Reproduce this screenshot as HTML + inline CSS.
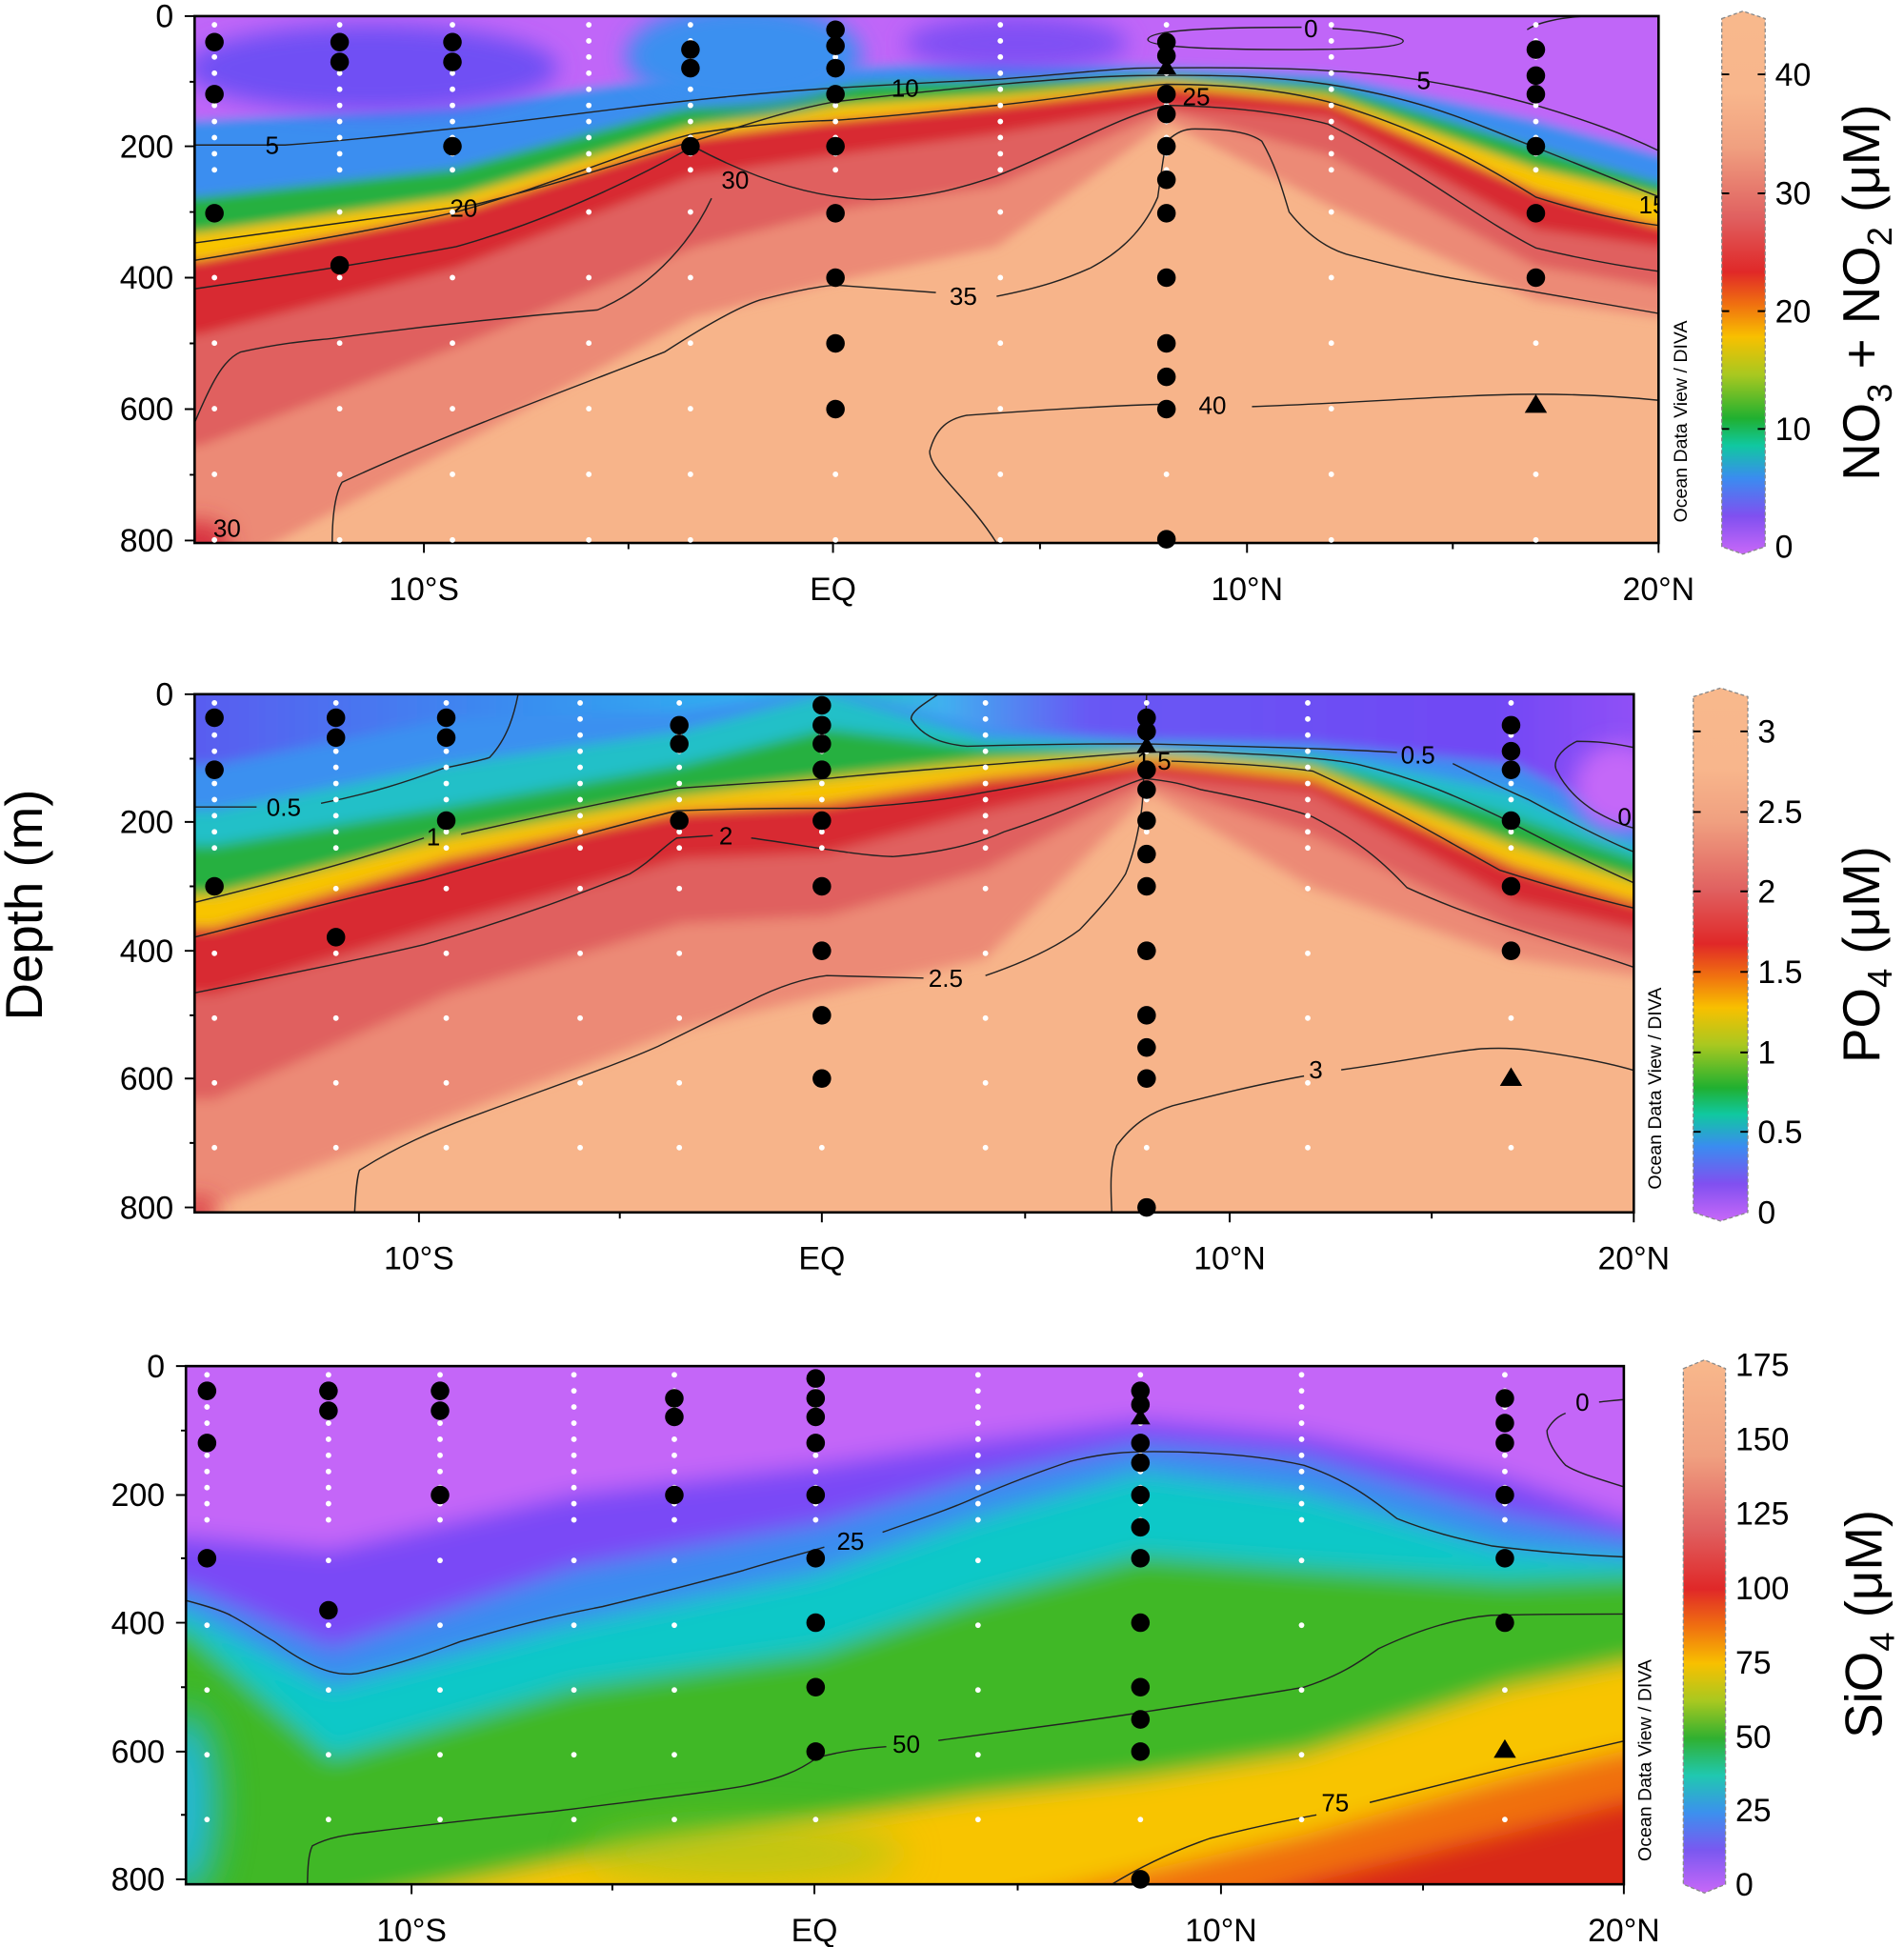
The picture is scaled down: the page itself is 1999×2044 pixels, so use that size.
<!DOCTYPE html>
<html><head><meta charset="utf-8"><style>html,body{margin:0;padding:0;background:#fff;width:1999px;height:2044px;overflow:hidden}svg{display:block;position:absolute;left:0;top:0}text{font-family:"Liberation Sans",Arial,sans-serif;fill:#000}</style></head>
<body>
<svg width="1999" height="2044" viewBox="0 0 1536 1570.6" preserveAspectRatio="none" xmlns="http://www.w3.org/2000/svg">
<defs>
<filter id="b1" x="-10%" y="-10%" width="120%" height="120%"><feGaussianBlur stdDeviation="4"/></filter>
<filter id="b2" x="-10%" y="-10%" width="120%" height="120%"><feGaussianBlur stdDeviation="5"/></filter>
<filter id="b3" x="-10%" y="-10%" width="120%" height="120%"><feGaussianBlur stdDeviation="9"/></filter>
<filter id="b4" x="-50%" y="-50%" width="200%" height="200%"><feGaussianBlur stdDeviation="15"/></filter>
<clipPath id="c1"><rect x="157" y="13" width="1181" height="425"/></clipPath>
<clipPath id="c2"><rect x="157" y="560" width="1161" height="418"/></clipPath>
<clipPath id="c3"><rect x="150" y="1102" width="1160" height="418"/></clipPath>
<linearGradient id="top2" gradientUnits="userSpaceOnUse" x1="157" x2="1318" y1="0" y2="0"><stop offset="0" stop-color="#5a5cf0"/><stop offset="0.22" stop-color="#3a8cf0"/><stop offset="0.38" stop-color="#30b0f0"/><stop offset="0.45" stop-color="#20c0c0"/><stop offset="0.52" stop-color="#40b0f0"/><stop offset="0.62" stop-color="#6858f4"/><stop offset="0.9" stop-color="#7048f4"/><stop offset="1" stop-color="#9050f6"/></linearGradient>
<linearGradient id="cbN" x1="0" x2="0" y1="1" y2="0"><stop offset="0" stop-color="#c868f8"/><stop offset="0.07" stop-color="#8050f0"/><stop offset="0.14" stop-color="#3a8cf0"/><stop offset="0.2" stop-color="#10c8a0"/><stop offset="0.25" stop-color="#20b030"/><stop offset="0.33" stop-color="#a8c820"/><stop offset="0.4" stop-color="#f8c000"/><stop offset="0.46" stop-color="#f07010"/><stop offset="0.52" stop-color="#e02828"/><stop offset="0.62" stop-color="#e06060"/><stop offset="0.75" stop-color="#f0a080"/><stop offset="0.85" stop-color="#f8b68c"/><stop offset="1" stop-color="#f8b88c"/></linearGradient>
<linearGradient id="cbS" x1="0" x2="0" y1="1" y2="0"><stop offset="0" stop-color="#c868f8"/><stop offset="0.08" stop-color="#7a58f0"/><stop offset="0.15" stop-color="#3c90ee"/><stop offset="0.22" stop-color="#20c8b0"/><stop offset="0.29" stop-color="#30b030"/><stop offset="0.36" stop-color="#a8c820"/><stop offset="0.43" stop-color="#f8c000"/><stop offset="0.5" stop-color="#f07010"/><stop offset="0.57" stop-color="#e02828"/><stop offset="0.68" stop-color="#e06060"/><stop offset="0.82" stop-color="#f0a080"/><stop offset="1" stop-color="#f8b88c"/></linearGradient>
</defs>

<!-- PANEL 1 -->
<g clip-path="url(#c1)">
<rect x="157" y="13" width="1181" height="425" fill="#f7b48a"/>
<g filter="url(#b1)">
<path d="M100,-50 L100,470 161,470 368,360 559,256 674,227 804,199 941,98 1071,165 1239,242 1339,256 1400,256 1400,-50Z" fill="#ec8a76"/>
<path d="M100,-50 L100,360 161,360 368,280 559,200 674,170 804,150 941,90 1071,125 1239,215 1339,232 1400,232 1400,-50Z" fill="#e0605e"/>
<path d="M100,-50 L100,270 161,270 368,216 559,142 674,125 804,108 941,85 1071,94 1239,185 1339,199 1400,199 1400,-50Z" fill="#d82a30"/>
<path d="M100,-50 L100,210 161,210 368,171 559,111 674,97 804,85 941,70 1071,82 1239,154 1339,182 1400,182 1400,-50Z" fill="#f8c400"/>
<path d="M100,-50 L100,188 161,188 368,159 559,102 674,85 804,77 941,65 1071,77 1239,136 1339,159 1400,159 1400,-50Z" fill="#28b040"/>
<path d="M100,-50 L100,159 161,159 368,136 559,85 674,68 804,65 941,60 1071,68 1239,119 1339,148 1400,148 1400,-50Z" fill="#3a8ef0"/>
<path d="M100,-50 L100,97 161,97 368,85 559,60 674,55 804,48 941,54 1071,60 1239,97 1339,125 1400,125 1400,-50Z" fill="#c066f8"/>
</g>
<g filter="url(#b3)">
<ellipse cx="300" cy="55" rx="150" ry="35" fill="#7050f4"/>
<ellipse cx="600" cy="45" rx="95" ry="42" fill="#3a90f0"/>
<ellipse cx="820" cy="35" rx="90" ry="22" fill="#8050f4"/>
<ellipse cx="160" cy="438" rx="25" ry="18" fill="#d83040"/>
</g>
<g fill="none" stroke="#222" stroke-width="1.1">
<path d="M157,117 L230,117 C300,112 340,106 383,102 C450,94 480,90 521,85 C600,76 640,73 674,71 C740,67 760,66 804,64 C860,60 890,56 918,55 C990,54 1040,55 1071,57 C1110,59 1130,62 1148,65 C1190,72 1210,77 1239,85 C1280,97 1310,108 1339,122"/>
<path d="M157,196 C260,182 320,174 383,165 C460,146 510,128 559,114 C610,98 640,88 674,82 C780,70 860,62 918,61 C990,60 1030,62 1071,68 C1150,80 1190,100 1239,119 C1280,135 1310,148 1339,159"/>
<path d="M157,210 C260,193 320,182 368,171 C450,148 510,120 559,108 C610,100 640,98 674,97 C730,93 770,88 804,85 C870,78 910,70 941,68 C1000,68 1040,74 1071,82 C1150,105 1200,135 1239,159 C1280,172 1310,178 1339,182"/>
<path d="M157,233 C260,218 320,208 368,199 C450,176 520,140 559,118 C600,140 650,160 704,161 C750,160 780,150 804,142 C860,120 900,95 941,85 C1000,86 1040,92 1071,100 C1150,140 1190,175 1239,200 C1280,210 1310,215 1339,219"/>
<path d="M157,341 C170,310 180,290 194,284 C230,276 250,275 268,273 C350,262 420,255 482,250 C530,230 560,190 574,160"/>
<path d="M268,438 C268,410 272,395 276,389 C360,350 470,310 536,284 C570,262 595,248 613,242 C640,235 660,231 674,230 L755,236 M804,239 C840,232 860,225 880,216 C910,200 925,180 934,159 C938,130 940,118 941,114 C950,106 956,104 964,104 C995,104 1010,108 1018,114 C1030,135 1035,155 1040,171 C1055,190 1070,200 1086,205 C1150,222 1190,228 1224,233 C1270,241 1310,248 1339,253"/>
<path d="M804,438 C780,400 750,380 750,364 C755,345 765,338 780,335 C850,330 900,327 941,326 M1010,328 C1100,325 1180,318 1239,318 C1280,318 1310,320 1339,323"/>
<path d="M926,32 C926,24 980,22 1050,22 M1075,23 C1110,25 1132,30 1132,33 C1132,38 1100,40 1040,40 C980,40 926,38 926,32"/>
<path d="M1232,24 C1240,18 1260,14 1280,13"/>
</g>
<g font-size="20"><text x="214" y="124">5</text><text x="1143" y="72">5</text><text x="1052" y="30">0</text><text x="719" y="78">10</text><text x="363" y="175">20</text><text x="954" y="85">25</text><text x="582" y="152">30</text><text x="766" y="246">35</text><text x="967" y="334">40</text><text x="172" y="433">30</text><text x="1322" y="172">15</text></g>
</g>
<rect x="157" y="13" width="1181" height="425" fill="none" stroke="#000" stroke-width="2"/>

<!-- PANEL 2 -->
<g clip-path="url(#c2)">
<rect x="157" y="560" width="1161" height="418" fill="#f7b48a"/>
<g filter="url(#b2)">
<path d="M100,500 L100,972 173,972 361,901 550,830 667,802 795,773 927,639 1059,716 1222,773 1320,787 1380,787 1380,500Z" fill="#ec8a76"/>
<path d="M100,500 L100,887 173,887 361,802 550,745 667,739 795,702 927,631 1059,674 1222,750 1320,773 1380,773 1380,500Z" fill="#e0605e"/>
<path d="M100,500 L100,802 173,802 361,745 550,693 667,688 795,654 927,625 1059,639 1222,728 1320,750 1380,750 1380,500Z" fill="#d82a30"/>
<path d="M100,500 L100,748 173,748 361,693 550,654 667,648 795,628 927,614 1059,628 1222,699 1320,728 1380,728 1380,500Z" fill="#f8c400"/>
<path d="M100,500 L100,722 173,722 361,676 550,642 667,628 795,614 927,608 1059,620 1222,682 1320,711 1380,711 1380,500Z" fill="#28b040"/>
<path d="M100,500 L100,682 173,682 361,651 550,617 667,588 795,603 927,605 1059,614 1222,659 1320,693 1380,693 1380,500Z" fill="#20c0c8"/>
<path d="M100,500 L100,654 173,654 361,617 550,590 667,560 795,596 927,602 1059,608 1222,639 1320,682 1380,682 1380,500Z" fill="#3a90f0"/>
<path d="M100,500 L100,617 173,617 361,580 550,574 667,554 795,588 927,597 1059,600 1222,617 1320,665 1380,665 1380,500Z" fill="url(#top2)"/>
</g>
<g filter="url(#b3)">
<ellipse cx="1305" cy="635" rx="35" ry="35" fill="#c468f8"/>
<ellipse cx="160" cy="978" rx="15" ry="12" fill="#d83040"/>
</g>
<g fill="none" stroke="#222" stroke-width="1.1">
<path d="M157,651 L207,651 M259,648 C300,640 330,630 357,620 C380,615 390,613 395,611 C410,595 415,575 418,560"/>
<path d="M757,560 C745,568 735,574 735,580 C745,595 760,600 780,602 C850,600 890,600 923,600 C1000,602 1080,604 1127,607 M1172,616 C1190,625 1210,635 1233,645 C1270,665 1300,680 1320,688"/>
<path d="M157,728 C250,705 300,690 342,676 M372,673 C450,655 500,645 546,636 C600,632 640,630 667,628 C730,622 760,620 795,617 C860,612 900,608 923,607 C950,606 970,606 984,607 C1050,610 1080,613 1097,617 C1150,630 1180,645 1210,659 C1250,680 1290,700 1320,713"/>
<path d="M157,756 C250,732 300,720 342,710 C430,685 500,665 546,654 C600,652 640,652 682,652 C740,648 770,644 795,639 C860,628 900,618 915,614 M945,614 C1000,616 1030,618 1059,622 C1120,650 1170,680 1210,702 C1260,718 1295,727 1320,733"/>
<path d="M157,801 C250,782 300,772 342,762 C420,740 470,720 508,705 C525,695 535,683 546,676 L575,674 M606,676 C650,682 690,690 720,691 C760,688 790,680 810,671 C860,655 900,635 923,628 C945,630 955,633 969,637 C1010,645 1040,652 1059,659 C1100,680 1120,700 1135,716 C1170,732 1200,742 1225,750 C1260,762 1295,772 1320,781"/>
<path d="M286,980 C287,960 288,950 290,944 C320,925 350,912 380,901 C450,875 500,858 531,844 C570,825 590,815 606,807 C630,795 650,789 667,787 L745,789 M795,787 C830,775 855,762 871,750 C890,730 900,718 908,705 C914,690 918,672 920,659 C922,650 922,645 925,560"/>
<path d="M897,980 C896,960 895,940 901,924 C915,905 930,897 946,892 C1000,878 1030,872 1052,868 M1082,863 C1140,855 1170,848 1195,846 C1215,845 1225,846 1233,847 C1270,852 1300,858 1320,864"/>
<path d="M1318,603 C1295,598 1280,598 1272,598 C1258,605 1252,615 1256,622 C1265,640 1280,650 1286,654 C1300,662 1310,666 1318,668"/>
</g>
<g font-size="20"><text x="215" y="658">0.5</text><text x="1130" y="616">0.5</text><text x="344" y="682">1</text><text x="917" y="621">1.5</text><text x="580" y="681">2</text><text x="749" y="796">2.5</text><text x="1056" y="870">3</text><text x="1305" y="666">0</text></g>
</g>
<rect x="157" y="560" width="1161" height="418" fill="none" stroke="#000" stroke-width="2"/>

<!-- PANEL 3 -->
<g clip-path="url(#c3)">
<rect x="150" y="1102" width="1160" height="418" fill="#d82818"/>
<g filter="url(#b3)">
<path d="M100,1040 L100,1650 150,1650 267,1650 463,1650 659,1650 787,1650 920,1560 1052,1520 1214,1480 1312,1455 1380,1455 1380,1040Z" fill="#f07010"/>
<path d="M100,1040 L100,1650 150,1650 267,1650 463,1600 659,1560 787,1540 920,1510 1052,1480 1214,1435 1312,1412 1380,1412 1380,1040Z" fill="#f8c400"/>
<path d="M100,1040 L100,1650 150,1650 267,1540 463,1500 659,1470 787,1450 920,1435 1052,1415 1214,1362 1312,1342 1380,1342 1380,1040Z" fill="#40b828"/>
<path d="M100,1040 L100,1315 150,1315 267,1418 463,1361 659,1333 787,1290 920,1255 1052,1265 1214,1275 1312,1272 1380,1272 1380,1040Z" fill="#10c8c8"/>
<path d="M100,1040 L100,1300 150,1300 267,1361 463,1310 659,1270 787,1225 920,1188 1052,1205 1214,1250 1312,1258 1380,1258 1380,1040Z" fill="#3a8cf0"/>
<path d="M100,1040 L100,1280 150,1280 267,1330 463,1265 659,1230 787,1193 920,1165 1052,1176 1214,1222 1312,1240 1380,1240 1380,1040Z" fill="#7a4af6"/>
<path d="M100,1040 L100,1239 150,1239 267,1250 463,1205 659,1182 787,1162 920,1145 1052,1157 1214,1191 1312,1225 1380,1225 1380,1040Z" fill="#c466f8"/>
</g>
<g filter="url(#b4)">
<ellipse cx="150" cy="1455" rx="25" ry="75" fill="#20b8d8"/>
<ellipse cx="600" cy="1495" rx="130" ry="25" fill="#9cc820" opacity="0.6"/>
</g>
<g fill="none" stroke="#222" stroke-width="1.1">
<path d="M146,1290 C165,1295 175,1298 184,1302 C200,1310 210,1318 221,1324 C240,1338 258,1348 274,1350 C285,1351 290,1350 297,1348 C330,1340 350,1332 372,1324 C420,1310 450,1303 486,1296 C540,1283 570,1275 599,1267 C625,1259 645,1254 665,1248 M712,1236 C740,1226 765,1218 787,1208 C820,1194 845,1185 863,1179 C890,1172 910,1171 931,1171 C980,1171 1020,1175 1052,1182 C1090,1195 1110,1212 1127,1225 C1160,1238 1185,1243 1203,1247 C1250,1253 1285,1255 1312,1256"/>
<path d="M248,1526 C248,1505 249,1495 252,1489 C265,1482 280,1480 297,1478 C360,1470 400,1466 448,1461 C520,1452 570,1446 599,1441 C630,1435 645,1428 659,1418 C680,1412 700,1410 715,1409 M757,1404 C830,1394 880,1388 923,1381 C980,1372 1020,1367 1052,1361 C1080,1352 1095,1342 1112,1330 C1150,1312 1180,1305 1203,1303 C1250,1302 1285,1302 1312,1302"/>
<path d="M889,1525 C920,1505 950,1492 976,1483 C1010,1474 1035,1469 1062,1464 M1105,1454 C1160,1440 1200,1430 1225,1424 C1260,1416 1290,1409 1312,1404"/>
<path d="M1312,1200 C1290,1193 1272,1188 1263,1182 C1252,1170 1248,1160 1248,1154 C1252,1146 1258,1142 1263,1140 M1290,1131 C1300,1130 1306,1129 1312,1129"/>
</g>
<g font-size="20"><text x="675" y="1250">25</text><text x="720" y="1414">50</text><text x="1066" y="1461">75</text><text x="1271" y="1138">0</text></g>
</g>
<rect x="150" y="1102" width="1160" height="418" fill="none" stroke="#000" stroke-width="2"/>

<!-- white dot columns -->
<g stroke="#fff" stroke-width="4.5" stroke-linecap="round" stroke-dasharray="0 13">
<path d="M173,20V140M274,20V140M365,20V140M475,20V140M557,20V140M674,20V140M807,20V140M941,20V140M1074,20V140M1239,20V140"/>
<path d="M173,567V687M271,567V687M360,567V687M468,567V687M548,567V687M663,567V687M795,567V687M925,567V687M1055,567V687M1219,567V687"/>
<path d="M167,1109V1229M265,1109V1229M355,1109V1229M463,1109V1229M544,1109V1229M658,1109V1229M789,1109V1229M920,1109V1229M1050,1109V1229M1214,1109V1229"/>
</g>
<g stroke="#fff" stroke-width="4.5" stroke-linecap="round" stroke-dasharray="0 52.9">
<path d="M173,171V438M274,171V438M365,171V438M475,171V438M557,171V438M674,171V438M807,171V438M941,171V438M1074,171V438M1239,171V438"/>
</g>
<g stroke="#fff" stroke-width="4.5" stroke-linecap="round" stroke-dasharray="0 52.25">
<path d="M173,716.75V978M271,716.75V978M360,716.75V978M468,716.75V978M548,716.75V978M663,716.75V978M795,716.75V978M925,716.75V978M1055,716.75V978M1219,716.75V978"/>
<path d="M167,1258.75V1520M265,1258.75V1520M355,1258.75V1520M463,1258.75V1520M544,1258.75V1520M658,1258.75V1520M789,1258.75V1520M920,1258.75V1520M1050,1258.75V1520M1214,1258.75V1520"/>
</g>

<!-- black dots -->
<g fill="#000">
<circle cx="173" cy="34" r="7.5"/><circle cx="173" cy="76" r="7.5"/><circle cx="173" cy="172" r="7.5"/>
<circle cx="274" cy="34" r="7.5"/><circle cx="274" cy="50" r="7.5"/><circle cx="274" cy="214" r="7.5"/>
<circle cx="365" cy="34" r="7.5"/><circle cx="365" cy="50" r="7.5"/><circle cx="365" cy="118" r="7.5"/>
<circle cx="557" cy="40" r="7.5"/><circle cx="557" cy="55" r="7.5"/><circle cx="557" cy="118" r="7.5"/>
<circle cx="674" cy="24" r="7.5"/><circle cx="674" cy="37" r="7.5"/><circle cx="674" cy="55" r="7.5"/><circle cx="674" cy="76" r="7.5"/><circle cx="674" cy="118" r="7.5"/><circle cx="674" cy="172" r="7.5"/><circle cx="674" cy="224" r="7.5"/><circle cx="674" cy="277" r="7.5"/><circle cx="674" cy="330" r="7.5"/>
<circle cx="941" cy="34" r="7.5"/><circle cx="941" cy="45" r="7.5"/><circle cx="941" cy="76" r="7.5"/><circle cx="941" cy="92" r="7.5"/><circle cx="941" cy="118" r="7.5"/><circle cx="941" cy="145" r="7.5"/><circle cx="941" cy="172" r="7.5"/><circle cx="941" cy="224" r="7.5"/><circle cx="941" cy="277" r="7.5"/><circle cx="941" cy="304" r="7.5"/><circle cx="941" cy="330" r="7.5"/><circle cx="941" cy="435" r="7.5"/>
<path d="M941,47 l-8,13 h16z"/>
<circle cx="1239" cy="40" r="7.5"/><circle cx="1239" cy="61" r="7.5"/><circle cx="1239" cy="76" r="7.5"/><circle cx="1239" cy="118" r="7.5"/><circle cx="1239" cy="172" r="7.5"/><circle cx="1239" cy="224" r="7.5"/>
<path d="M1239,318 l-9,15 h18z"/>
<circle cx="173" cy="579" r="7.5"/><circle cx="173" cy="621" r="7.5"/><circle cx="173" cy="715" r="7.5"/>
<circle cx="271" cy="579" r="7.5"/><circle cx="271" cy="595" r="7.5"/><circle cx="271" cy="756" r="7.5"/>
<circle cx="360" cy="579" r="7.5"/><circle cx="360" cy="595" r="7.5"/><circle cx="360" cy="662" r="7.5"/>
<circle cx="548" cy="585" r="7.5"/><circle cx="548" cy="600" r="7.5"/><circle cx="548" cy="662" r="7.5"/>
<circle cx="663" cy="569" r="7.5"/><circle cx="663" cy="585" r="7.5"/><circle cx="663" cy="600" r="7.5"/><circle cx="663" cy="621" r="7.5"/><circle cx="663" cy="662" r="7.5"/><circle cx="663" cy="715" r="7.5"/><circle cx="663" cy="767" r="7.5"/><circle cx="663" cy="819" r="7.5"/><circle cx="663" cy="870" r="7.5"/>
<circle cx="925" cy="579" r="7.5"/><circle cx="925" cy="590" r="7.5"/><circle cx="925" cy="621" r="7.5"/><circle cx="925" cy="637" r="7.5"/><circle cx="925" cy="662" r="7.5"/><circle cx="925" cy="689" r="7.5"/><circle cx="925" cy="715" r="7.5"/><circle cx="925" cy="767" r="7.5"/><circle cx="925" cy="819" r="7.5"/><circle cx="925" cy="845" r="7.5"/><circle cx="925" cy="870" r="7.5"/><circle cx="925" cy="974" r="7.5"/>
<path d="M925,594 l-8,13 h16z"/>
<circle cx="1219" cy="585" r="7.5"/><circle cx="1219" cy="606" r="7.5"/><circle cx="1219" cy="621" r="7.5"/><circle cx="1219" cy="662" r="7.5"/><circle cx="1219" cy="715" r="7.5"/><circle cx="1219" cy="767" r="7.5"/>
<path d="M1219,861 l-9,15 h18z"/>
<circle cx="167" cy="1122" r="7.5"/><circle cx="167" cy="1164" r="7.5"/><circle cx="167" cy="1257" r="7.5"/>
<circle cx="265" cy="1122" r="7.5"/><circle cx="265" cy="1138" r="7.5"/><circle cx="265" cy="1299" r="7.5"/>
<circle cx="355" cy="1122" r="7.5"/><circle cx="355" cy="1138" r="7.5"/><circle cx="355" cy="1206" r="7.5"/>
<circle cx="544" cy="1128" r="7.5"/><circle cx="544" cy="1143" r="7.5"/><circle cx="544" cy="1206" r="7.5"/>
<circle cx="658" cy="1112" r="7.5"/><circle cx="658" cy="1128" r="7.5"/><circle cx="658" cy="1143" r="7.5"/><circle cx="658" cy="1164" r="7.5"/><circle cx="658" cy="1206" r="7.5"/><circle cx="658" cy="1257" r="7.5"/><circle cx="658" cy="1309" r="7.5"/><circle cx="658" cy="1361" r="7.5"/><circle cx="658" cy="1413" r="7.5"/>
<circle cx="920" cy="1122" r="7.5"/><circle cx="920" cy="1133" r="7.5"/><circle cx="920" cy="1164" r="7.5"/><circle cx="920" cy="1180" r="7.5"/><circle cx="920" cy="1206" r="7.5"/><circle cx="920" cy="1232" r="7.5"/><circle cx="920" cy="1257" r="7.5"/><circle cx="920" cy="1309" r="7.5"/><circle cx="920" cy="1361" r="7.5"/><circle cx="920" cy="1387" r="7.5"/><circle cx="920" cy="1413" r="7.5"/><circle cx="920" cy="1516" r="7.5"/>
<path d="M920,1136 l-8,13 h16z"/>
<circle cx="1214" cy="1128" r="7.5"/><circle cx="1214" cy="1148" r="7.5"/><circle cx="1214" cy="1164" r="7.5"/><circle cx="1214" cy="1206" r="7.5"/><circle cx="1214" cy="1257" r="7.5"/><circle cx="1214" cy="1309" r="7.5"/>
<path d="M1214,1403 l-9,15 h18z"/>
</g>

<!-- axes ticks & labels -->
<g stroke="#000" stroke-width="1.5">
<path d="M157,13h-8M157,118h-8M157,224h-8M157,330h-8M157,436h-8M157,66h-4M157,171h-4M157,277h-4M157,383h-4"/>
<path d="M342,438v8M672,438v8M1006,438v8M1338,438v8M507,438v5M839,438v5M1172,438v5"/>
<path d="M157,560h-8M157,663h-8M157,767h-8M157,870h-8M157,974h-8M157,612h-4M157,715h-4M157,819h-4M157,922h-4"/>
<path d="M338,978v8M663,978v8M992,978v8M1318,978v8M500,978v5M827,978v5M1155,978v5"/>
<path d="M150,1102h-8M150,1206h-8M150,1309h-8M150,1413h-8M150,1516h-8M150,1154h-4M150,1257h-4M150,1361h-4M150,1464h-4"/>
<path d="M332,1520v8M657,1520v8M985,1520v8M1310,1520v8M494,1520v5M821,1520v5M1148,1520v5"/>
</g>
<g font-size="26" text-anchor="end">
<text x="140" y="22">0</text><text x="140" y="127">200</text><text x="140" y="233">400</text><text x="140" y="339">600</text><text x="140" y="445">800</text>
<text x="140" y="569">0</text><text x="140" y="672">200</text><text x="140" y="776">400</text><text x="140" y="879">600</text><text x="140" y="983">800</text>
<text x="133" y="1111">0</text><text x="133" y="1215">200</text><text x="133" y="1318">400</text><text x="133" y="1422">600</text><text x="133" y="1525">800</text>
</g>
<g font-size="26" text-anchor="middle">
<text x="342" y="484">10°S</text><text x="672" y="484">EQ</text><text x="1006" y="484">10°N</text><text x="1338" y="484">20°N</text>
<text x="338" y="1024">10°S</text><text x="663" y="1024">EQ</text><text x="992" y="1024">10°N</text><text x="1318" y="1024">20°N</text>
<text x="332" y="1566">10°S</text><text x="657" y="1566">EQ</text><text x="985" y="1566">10°N</text><text x="1310" y="1566">20°N</text>
</g>
<text transform="translate(34,730) rotate(-90)" font-size="42" text-anchor="middle">Depth (m)</text>
<g font-size="15" text-anchor="middle">
<text transform="translate(1361,340) rotate(-90)">Ocean Data View / DIVA</text>
<text transform="translate(1340,878) rotate(-90)">Ocean Data View / DIVA</text>
<text transform="translate(1332,1420) rotate(-90)">Ocean Data View / DIVA</text>
</g>

<!-- colorbars -->
<path d="M1389,15 L1406,9 L1424,15 V441 L1406,447 L1389,441Z" fill="url(#cbN)" stroke="#888" stroke-width="1" stroke-dasharray="3 2"/>
<g stroke="#000" stroke-width="1.5"><path d="M1389,60h6M1418,60h6M1389,156h6M1418,156h6M1389,251h6M1418,251h6M1389,346h6M1418,346h6"/></g>
<g font-size="26"><text x="1432" y="69">40</text><text x="1432" y="165">30</text><text x="1432" y="260">20</text><text x="1432" y="355">10</text><text x="1432" y="450">0</text></g>
<text transform="translate(1516,236) rotate(-90)" font-size="42" text-anchor="middle">NO<tspan font-size="28" dy="10">3</tspan><tspan dy="-10"> + NO</tspan><tspan font-size="28" dy="10">2</tspan><tspan dy="-10"> (μM)</tspan></text>

<path d="M1366,562 L1388,555 L1410,562 V978 L1388,985 L1366,978Z" fill="url(#cbN)" stroke="#888" stroke-width="1" stroke-dasharray="3 2"/>
<g stroke="#000" stroke-width="1.5"><path d="M1366,590h6M1404,590h6M1366,655h6M1404,655h6M1366,719h6M1404,719h6M1366,784h6M1404,784h6M1366,849h6M1404,849h6M1366,913h6M1404,913h6"/></g>
<g font-size="26"><text x="1418" y="599">3</text><text x="1418" y="664">2.5</text><text x="1418" y="728">2</text><text x="1418" y="793">1.5</text><text x="1418" y="858">1</text><text x="1418" y="922">0.5</text><text x="1418" y="987">0</text></g>
<text transform="translate(1516,770) rotate(-90)" font-size="42" text-anchor="middle">PO<tspan font-size="28" dy="10">4</tspan><tspan dy="-10"> (μM)</tspan></text>

<path d="M1358,1104 L1375,1097 L1392,1104 V1520 L1375,1527 L1358,1520Z" fill="url(#cbS)" stroke="#888" stroke-width="1" stroke-dasharray="3 2"/>
<g font-size="26"><text x="1400" y="1110">175</text><text x="1400" y="1170">150</text><text x="1400" y="1230">125</text><text x="1400" y="1290">100</text><text x="1400" y="1350">75</text><text x="1400" y="1410">50</text><text x="1400" y="1469">25</text><text x="1400" y="1529">0</text></g>
<text transform="translate(1518,1310) rotate(-90)" font-size="42" text-anchor="middle">SiO<tspan font-size="28" dy="10">4</tspan><tspan dy="-10"> (μM)</tspan></text>
</svg>
</body></html>
